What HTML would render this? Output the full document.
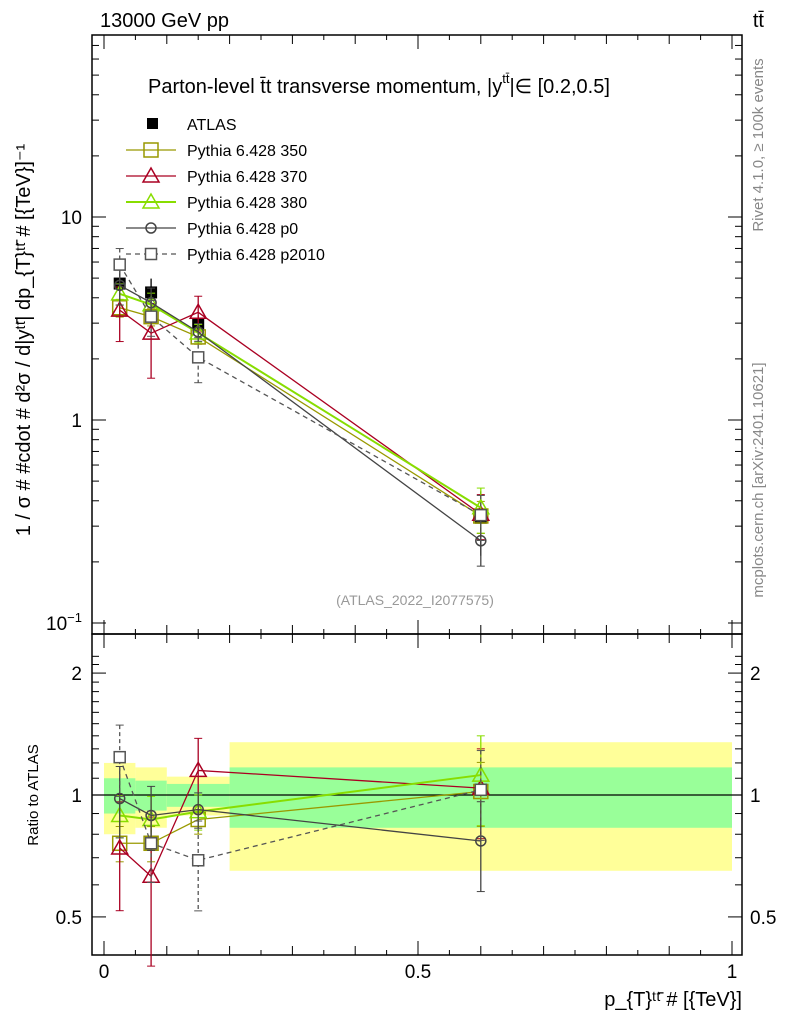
<!DOCTYPE html>
<html><head><meta charset="utf-8"><style>
body{margin:0;background:#fff;width:786px;height:1024px;overflow:hidden}
svg{font-family:"Liberation Sans",sans-serif}
</style></head><body>
<svg id="c" width="786" height="1024" xmlns="http://www.w3.org/2000/svg"></svg>
<script>
const xs=[0.025,0.075,0.15,0.6];
const binLo=[0,0.05,0.1,0.2];
const binHi=[0.05,0.1,0.2,1.0];
const atlas=[4.7,4.25,2.95,0.33];
const bandY1=[0.20,0.17,0.11,0.35];
const bandY2=[0.20,0.17,0.11,0.35];
const bandG=[0.10,0.085,0.065,0.17];
const r350=[0.76,0.76,0.87,1.02];
const r370=[0.74,0.63,1.15,1.04];
const r380=[0.89,0.87,0.91,1.12];
const rp0=[0.98,0.89,0.92,0.77];
const rp2010=[1.24,0.76,0.69,1.03];
const e350=[0.10,0.10,0.08,0.18];
const e370=[0.30,0.40,0.20,0.25];
const e380=[0.12,0.14,0.10,0.25];
const ep0=[0.20,0.18,0.10,0.25];
const ep2010=[0.20,0.20,0.25,0.25];
const mainTicks=["10","1"];
const ratioTicks=["2","1","0.5"];
const xTicks=["0","0.5","1"];

const S=document.getElementById('c');const NS='http://www.w3.org/2000/svg';
function el(t,a,p){const e=document.createElementNS(NS,t);for(const k in a)e.setAttribute(k,a[k]);(p||S).appendChild(e);return e;}
const X=v=>104+v*628;
const Y=v=>420-Math.log10(v)*203;
const R=v=>795-Math.log10(v)*405;
const FL=92,FR=742,T=35,M=634,B=955,FW=FR-FL;

for(let i=0;i<4;i++){
 let b=el('rect',{x:X(binLo[i]),y:R(1+bandY1[i]),width:X(binHi[i])-X(binLo[i]),height:R(1-bandY2[i])-R(1+bandY1[i]),fill:'#ffff99'});
 
 let g=el('rect',{x:X(binLo[i]),y:R(1+bandG[i]),width:X(binHi[i])-X(binLo[i]),height:R(1-bandG[i])-R(1+bandG[i]),fill:'#99ff99'});
 
}
el('line',{x1:FL,x2:FR,y1:R(1),y2:R(1),stroke:'#000','stroke-width':1.2});

el('rect',{x:FL,y:T,width:FW,height:M-T,fill:'none',stroke:'#000','stroke-width':1.5});
el('rect',{x:FL,y:M,width:FW,height:B-M,fill:'none',stroke:'#000','stroke-width':1.5});

for(let d=-1;d<=1;d++)for(let k=1;k<10;k++){const v=k*Math.pow(10,d);const y=Y(v);if(y<T||y>M)continue;const len=k==1?14:7;
 el('line',{x1:FL,x2:FL+len,y1:y,y2:y,stroke:'#000'});el('line',{x1:FR,x2:FR-len,y1:y,y2:y,stroke:'#000'});}
const mt=[10,1];mt.forEach((v,i)=>{let t=el('text',{x:82,y:Y(v)+7,'text-anchor':'end','font-size':19});t.textContent=mainTicks[i];});
let t01=el('text',{x:82,y:Y(0.1)+7,'text-anchor':'end','font-size':19});t01.textContent='10';
let t01e=el('tspan',{dy:-8,'font-size':13},t01);t01e.textContent='−1';
for(let v=0.4;v<=2.3;v+=0.1){const y=R(v);if(y<M||y>B)continue;const maj=[0.5,1,2].some(m=>Math.abs(m-v)<1e-6);const len=maj?14:7;
 el('line',{x1:FL,x2:FL+len,y1:y,y2:y,stroke:'#000'});el('line',{x1:FR,x2:FR-len,y1:y,y2:y,stroke:'#000'});}
[2,1,0.5].forEach((v,i)=>{let t=el('text',{x:82,y:R(v)+7,'text-anchor':'end','font-size':19});t.textContent=ratioTicks[i];
 let t2=el('text',{x:750,y:R(v)+7,'font-size':19});t2.textContent=ratioTicks[i];});
for(let k=0;k<=20;k++){const v=k*0.05;const x=X(v);const len=k%10==0?14:(k%2==0?9:5);
 el('line',{x1:x,x2:x,y1:B,y2:B-len,stroke:'#000'});el('line',{x1:x,x2:x,y1:M,y2:M-len,stroke:'#000'});el('line',{x1:x,x2:x,y1:M,y2:M+len,stroke:'#000'});el('line',{x1:x,x2:x,y1:T,y2:T+len,stroke:'#000'});}
[0,0.5,1].forEach((v,i)=>{let t=el('text',{x:X(v),y:978,'text-anchor':'middle','font-size':19});t.textContent=xTicks[i];});

const series=[
 {r:r350,e:e350,c:'#999900',m:'sq',name:'pythia-350',dash:null,w:1.3},
 {r:r370,e:e370,c:'#aa0022',m:'tri',name:'pythia-370',dash:null,w:1.3},
 {r:r380,e:e380,c:'#88dd00',m:'tri',name:'pythia-380',dash:null,w:2},
 {r:rp0,e:ep0,c:'#444444',m:'circ',name:'pythia-p0',dash:null,w:1.3},
 {r:rp2010,e:ep2010,c:'#555555',m:'ssq',name:'pythia-p2010',dash:'5,4',w:1.3}];
function marker(m,x,y,c,g){
 if(m=='sq')el('rect',{x:x-7,y:y-7,width:14,height:14,fill:'none',stroke:c,'stroke-width':1.5},g);
 if(m=='ssq')el('rect',{x:x-5.5,y:y-5.5,width:11,height:11,fill:'#fff',stroke:c,'stroke-width':1.5},g);
 if(m=='tri')el('polygon',{points:`${x},${y-8} ${x-8},${y+6} ${x+8},${y+6}`,fill:'none',stroke:c,'stroke-width':1.5},g);
 if(m=='circ')el('circle',{cx:x,cy:y,r:5,fill:'none',stroke:c,'stroke-width':1.5},g);
}
function draw(s,Yf,vals,errs){
 const g=el('g',{});
 let pts=xs.map((x,i)=>X(x)+','+Yf(vals[i])).join(' ');
 const a={points:pts,fill:'none',stroke:s.c,'stroke-width':s.w};if(s.dash)a['stroke-dasharray']=s.dash;el('polyline',a,g);
 xs.forEach((x,i)=>{const y1=Yf(vals[i]*(1+errs[i])),y2=Yf(vals[i]*(1-errs[i]));
  const ea={x1:X(x),x2:X(x),y1:y1,y2:y2,stroke:s.c,'stroke-width':1.3};if(s.dash)ea['stroke-dasharray']='4,3';el('line',ea,g);
  el('line',{x1:X(x)-4,x2:X(x)+4,y1:y1,y2:y1,stroke:s.c},g);el('line',{x1:X(x)-4,x2:X(x)+4,y1:y2,y2:y2,stroke:s.c},g);
  marker(s.m,X(x),Yf(vals[i]),s.c,g);});
}
const ga=el('g',{});
xs.forEach((x,i)=>{el('line',{x1:X(x),x2:X(x),y1:Y(atlas[i]*(1+bandY1[i])),y2:Y(atlas[i]*(1-bandY2[i])),stroke:'#000','stroke-width':1.3},ga);
 el('rect',{x:X(x)-6,y:Y(atlas[i])-6,width:12,height:12,fill:'#000'},ga);});
series.forEach(s=>{draw(s,Y,s.r.map((r,i)=>r*atlas[i]),s.e);draw(s,R,s.r,s.e);});

const lg=el('g',{});
el('rect',{x:147,y:118,width:11,height:11,fill:'#000'},lg);
let lt=el('text',{x:187,y:130,'font-size':16},lg);lt.textContent='ATLAS';
const names=['Pythia 6.428 350','Pythia 6.428 370','Pythia 6.428 380','Pythia 6.428 p0','Pythia 6.428 p2010'];
series.forEach((s,i)=>{const y=150+i*26;const e=el('g',{},lg);
 const a={x1:126,x2:176,y1:y,y2:y,stroke:s.c,'stroke-width':s.w};if(s.dash)a['stroke-dasharray']=s.dash;el('line',a,e);
 marker(s.m,151,y,s.c,e);let t=el('text',{x:187,y:y+6,'font-size':16},e);t.textContent=names[i];});

function txt(x,y,s,fs,extra,name){let t=el('text',Object.assign({x:x,y:y,'font-size':fs},extra||{}));t.textContent=s;return t;}
txt(100,27,'13000 GeV pp',20,{},'header-left');
txt(764,27,'tt̄',20,{'text-anchor':'end'},'header-right');
const tt=txt(148,93,'Parton-level t̄t transverse momentum, |y',20,{},'plot-title');
let sup=el('tspan',{dy:-10,'font-size':13},tt);sup.textContent='tt̄';
let rest=el('tspan',{dy:10},tt);rest.textContent='|∈ [0.2,0.5]';
txt(415,605,'(ATLAS_2022_I2077575)',14,{'text-anchor':'middle',fill:'#999'},'analysis-id');
txt(0,0,'1 / σ # #cdot # d²σ / d|yᵗᵗ̄| dp_{T}ᵗᵗ̄ # [{TeV}]⁻¹',20,{transform:'translate(30,340) rotate(-90)','text-anchor':'middle'},'y-axis-title');
txt(0,0,'Ratio to ATLAS',15,{transform:'translate(38,795) rotate(-90)','text-anchor':'middle'},'ratio-axis-title');
txt(742,1006,'p_{T}ᵗᵗ̄ # [{TeV}]',20,{'text-anchor':'end'},'x-axis-title');
txt(0,0,'Rivet 4.1.0, ≥ 100k events',15,{transform:'translate(763,145) rotate(-90)','text-anchor':'middle',fill:'#888'},'rivet-label');
txt(0,0,'mcplots.cern.ch [arXiv:2401.10621]',15,{transform:'translate(763,480) rotate(-90)','text-anchor':'middle',fill:'#888'},'mcplots-label');
</script>
</body></html>
